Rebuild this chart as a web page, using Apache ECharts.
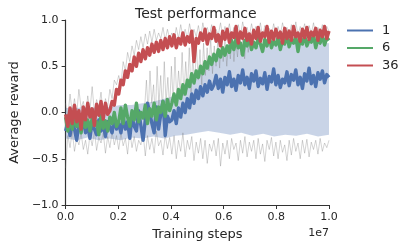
<!DOCTYPE html>
<html><head><meta charset="utf-8">
<script src="https://cdn.jsdelivr.net/npm/echarts/dist/echarts.min.js"></script>
<style>html,body{margin:0;padding:0;background:#fff}#c{width:407px;height:248px}</style>
</head><body><div id="c"></div>
<script>
// ---- data (Average reward vs training steps, x in units of 1e7 steps) ----
const legendNames = ['1', '6', '36'];
const xTickLabels = ['0.0', '0.2', '0.4', '0.6', '0.8', '1.0'];
const yTickLabels = ['\u22121.0', '\u22120.5', '0.0', '0.5', '1.0'];

// mean curve, 36 workers (x from 0.0 to 1.0)
const red36 = [-0.02,-0.15,0.05,-0.12,0.08,-0.1,0.02,-0.18,0.06,-0.08,0.1,-0.05,0.04,-0.14,0.09,-0.03,0.12,-0.07,0.1,-0.02,
 0.02,0.12,0.08,0.25,0.2,0.35,0.3,0.45,0.38,0.52,0.45,0.6,0.5,0.64,0.55,0.68,0.58,0.7,0.62,0.74,0.65,0.76,0.66,0.78,0.68,0.8,0.7,0.82,
 0.72,0.84,0.7,0.8,0.74,0.86,0.73,0.82,0.76,0.88,0.55,0.8,
 0.75,0.86,0.78,0.9,0.74,0.85,0.8,0.92,0.77,0.84,0.72,0.88,0.79,0.9,0.76,0.86,0.81,0.93,0.75,0.87,0.8,0.91,0.78,0.85,0.74,0.89,0.8,0.92,0.77,0.86,
 0.82,0.93,0.76,0.88,0.79,0.9,0.81,0.87,0.75,0.91,0.8,0.88,0.78,0.93,0.82,0.86,0.77,0.9,0.81,0.92,0.79,0.87,0.83,0.91,0.78,0.89,0.82,0.93,0.8,0.88];
// mean curve, 6 workers
const green6 = [-0.05,-0.2,-0.08,-0.18,-0.02,-0.15,-0.1,-0.22,-0.04,-0.16,-0.08,-0.2,-0.06,-0.14,-0.1,-0.24,-0.03,-0.17,-0.09,-0.2,-0.05,-0.12,0.0,-0.15,
 -0.1,0.05,-0.12,0.08,-0.05,-0.15,0.02,-0.08,0.1,-0.1,0.0,-0.06,0.08,-0.12,0.04,-0.04,0.1,-0.08,0.06,0.0,0.12,-0.04,0.14,0.02,
 0.1,0.2,0.08,0.25,0.15,0.3,0.2,0.35,0.28,0.42,0.32,0.45,0.38,0.5,0.42,0.55,0.48,0.6,0.52,0.63,0.56,0.68,0.6,0.7,0.62,
 0.72,0.65,0.78,0.68,0.8,0.7,0.75,0.62,0.78,0.72,0.82,0.68,0.76,0.7,0.8,0.74,0.66,0.79,0.72,0.83,0.7,0.77,0.73,0.81,0.68,0.78,0.74,0.84,0.71,0.79,
 0.75,0.82,0.66,0.8,0.74,0.83,0.72,0.78,0.76,0.84,0.7,0.8,0.75,0.83,0.73,0.81,0.78];
// mean curve, 1 worker
const blue1 = [-0.2,-0.1,-0.25,-0.08,-0.18,-0.3,-0.12,-0.2,-0.06,-0.22,-0.14,-0.28,-0.1,-0.18,-0.24,-0.08,-0.2,-0.12,-0.26,-0.1,-0.16,-0.22,-0.06,-0.18,
 -0.12,-0.22,-0.05,-0.18,-0.1,-0.28,-0.04,-0.15,-0.2,0.02,-0.14,-0.3,-0.08,0.1,0.0,-0.12,-0.22,0.06,-0.18,-0.02,0.12,-0.25,-0.04,-0.1,
 -0.08,0.02,-0.12,0.05,-0.05,0.1,0.0,0.15,0.05,0.2,0.1,0.24,0.15,0.28,0.18,0.3,0.22,0.34,0.25,
 0.3,0.4,0.26,0.36,0.22,0.38,0.3,0.44,0.28,0.36,0.24,0.4,0.32,0.46,0.3,0.38,0.26,0.42,0.34,0.45,0.28,0.37,0.31,0.43,0.25,0.39,0.33,0.47,0.3,0.4,
 0.27,0.36,0.32,0.44,0.29,0.41,0.35,0.46,0.3,0.38,0.26,0.42,0.34,0.48,0.31,0.4,0.28,0.43,0.36,0.45,0.32,0.41,0.38];
// spread band of the 1-worker runs
const blueLo = [-0.28,-0.3,-0.27,-0.3,-0.28,-0.3,-0.27,-0.28,-0.26,-0.28,-0.25,-0.24,-0.22,-0.2,-0.22,-0.24,-0.22,-0.25,-0.23,-0.26,-0.24,-0.25,-0.23,-0.26,-0.24];
const blueHi = [0.05,0.05,0.06,0.05,0.06,0.08,0.08,0.1,0.12,0.15,0.18,0.25,0.4,0.55,0.66,0.7,0.72,0.73,0.72,0.74,0.73,0.75,0.74,0.76,0.75];
// individual runs: lower extremes, upper extremes, middle (transition) traces
const grayLow = [-0.6,-0.25,-0.38,-0.2,-0.42,-0.28,-0.35,-0.22,-0.4,-0.3,-0.45,-0.24,-0.36,-0.2,-0.41,-0.27,-0.33,-0.22,-0.44,-0.26,-0.38,-0.21,-0.35,-0.25,
 -0.4,-0.22,-0.36,-0.28,-0.45,-0.2,-0.38,-0.26,-0.42,-0.3,-0.35,-0.22,-0.47,-0.25,-0.4,-0.28,-0.44,-0.2,-0.36,-0.3,-0.46,-0.24,-0.39,-0.27,
 -0.45,-0.25,-0.5,-0.3,-0.42,-0.22,-0.48,-0.3,-0.4,-0.26,-0.52,-0.32,-0.44,-0.28,-0.5,-0.3,-0.55,-0.34,-0.42,-0.3,-0.47,-0.28,-0.58,-0.33,
 -0.45,-0.3,-0.5,-0.28,-0.4,-0.33,-0.52,-0.3,-0.44,-0.26,-0.48,-0.32,-0.42,-0.3,-0.5,-0.28,-0.45,-0.34,-0.53,-0.3,-0.4,-0.27,-0.47,-0.32,-0.5,-0.3,
 -0.43,-0.35,-0.52,-0.3,-0.46,-0.28,-0.42,-0.33,-0.5,-0.3,-0.44,-0.29,-0.48,-0.32,-0.4,-0.3,-0.45,-0.28,-0.42,-0.33,-0.38,-0.3];
const grayHigh = [0.1,-0.05,0.2,0.0,0.15,-0.02,0.25,0.05,0.12,-0.04,0.18,0.02,0.28,0.0,0.14,0.05,0.22,-0.03,0.15,0.06,0.25,0.15,0.35,0.3,
 0.4,0.3,0.55,0.45,0.65,0.55,0.72,0.62,0.78,0.68,0.82,0.7,0.85,0.74,0.88,0.76,0.9,0.78,0.86,0.8,0.92,0.78,0.9,0.8,
 0.86,0.78,0.92,0.8,0.95,0.82,0.9,0.8,0.96,0.84,0.9,0.82,0.94,0.8,0.97,0.85,0.92,0.83,0.95,0.81,0.9,0.84,0.97,0.82,0.93,0.85,0.96,0.8,
 0.92,0.84,0.95,0.83,0.98,0.86,0.92,0.82,0.96,0.85,0.93,0.84,0.97,0.82,0.94,0.86,0.91,0.83,0.96,0.85,0.93,0.84,0.97,0.86,0.92,0.83,
 0.95,0.85,0.98,0.84,0.93,0.86,0.96,0.83,0.94,0.85,0.97,0.84,0.92,0.86,0.95,0.85,0.93,0.88];
const grayMidRange = [0.3, 0.7];
const grayMid = [0.05,0.35,0.0,0.45,0.1,0.3,-0.05,0.5,0.08,0.4,0.02,0.55,0.1,0.38,0.05,
 0.5,0.12,0.6,0.15,0.45,0.2,0.65,0.18,0.55,0.25,0.7,0.22,0.6,0.3,0.72,
 0.35,0.68,0.3,0.75,0.4,0.7,0.45,0.8,0.42,0.72,0.5,0.78,0.48,0.82,0.55,
 0.8,0.5,0.75,0.58,0.85,0.55,0.78,0.6,0.82,0.62,0.8,0.58,0.84,0.65,0.8];

// ---- build ----
const SCALE = 1e7;
function xAt(i, n, x0, x1) { return (x0 + (x1 - x0) * i / (n - 1)) * SCALE; }
function toXY(arr, x0, x1) {
  x0 = x0 === undefined ? 0 : x0; x1 = x1 === undefined ? 1 : x1;
  return arr.map((v, i) => [xAt(i, arr.length, x0, x1), v]);
}
const C_BLUE = '#4C72B0', C_GREEN = '#55A868', C_RED = '#C44E52';
const FONT = 'DejaVu Sans';
const TXT = '#262626';
const grayStyle = { color: 'rgba(120,120,120,0.4)', width: 0.8 };

function grayLine(name, data) {
  return { name: name, type: 'line', data: data, showSymbol: false, symbol: 'none', silent: true, z: 2,
    lineStyle: grayStyle, animation: false };
}
function meanLine(name, data, color, z) {
  return { name: name, type: 'line', data: data, showSymbol: false, symbol: 'none', z: z,
    itemStyle: { color: color }, lineStyle: { color: color, width: 3.4, join: 'round' }, animation: false };
}

// band polygon drawn through the axes' own coordinate mapping
const bandData = blueLo.map((v, i) => [xAt(i, blueLo.length, 0, 1), v, blueHi[i]]);
function renderBand(params, api) {
  if (params.dataIndex !== 0) return null;
  const top = bandData.map(d => api.coord([d[0], d[2]]));
  const bot = bandData.slice().reverse().map(d => api.coord([d[0], d[1]]));
  return { type: 'polygon', shape: { points: top.concat(bot) },
    style: { fill: 'rgba(76,114,176,0.3)' } };
}

const chart = echarts.init(document.getElementById('c'), null, { renderer: 'canvas' });
chart.setOption({
  animation: false,
  backgroundColor: '#fff',
  textStyle: { fontFamily: FONT },
  title: { text: 'Test performance', left: 130, top: 2,
    textStyle: { fontFamily: FONT, fontSize: 14, fontWeight: 'normal', color: TXT } },
  legend: { data: legendNames, orient: 'vertical', left: 342, top: 19, itemWidth: 26, itemHeight: 2,
    itemGap: 4.5, icon: 'rect',
    textStyle: { fontFamily: FONT, fontSize: 13, color: TXT, padding: [0, 0, 0, 4] } },
  grid: { left: 60, right: 78, top: 20, bottom: 43 },
  xAxis: {
    type: 'value', min: 0, max: SCALE, interval: 0.2 * SCALE,
    name: 'Training steps', nameLocation: 'middle', nameGap: 21,
    nameTextStyle: { fontFamily: FONT, fontSize: 13, color: TXT },
    axisLine: { onZero: false, lineStyle: { color: '#333', width: 1.2 } },
    axisTick: { length: 4, lineStyle: { color: '#333', width: 1 } },
    axisLabel: { margin: 7, fontFamily: FONT, fontSize: 11, color: TXT,
      formatter: v => xTickLabels[Math.round(v / (0.2 * SCALE))] },
    splitLine: { show: false }
  },
  yAxis: {
    type: 'value', min: -1, max: 1, interval: 0.5,
    name: 'Average reward', nameLocation: 'middle', nameGap: 43,
    nameTextStyle: { fontFamily: FONT, fontSize: 13, color: TXT },
    axisLine: { show: true, onZero: false, lineStyle: { color: '#333', width: 1.2 } },
    axisTick: { show: true, length: 4, lineStyle: { color: '#333', width: 1 } },
    axisLabel: { margin: 7, fontFamily: FONT, fontSize: 11, color: TXT,
      formatter: v => yTickLabels[Math.round((v + 1) / 0.5)] },
    splitLine: { show: false }
  },
  graphic: [{ type: 'text', right: 78, top: 228,
    style: { text: '1e7', fontFamily: FONT, fontSize: 11, fill: TXT } }],
  series: [
    { name: 'band', type: 'custom', data: bandData, renderItem: renderBand, silent: true, z: 1,
      encode: { x: 0, y: [1, 2] }, animation: false },
    grayLine('grayLow', toXY(grayLow)),
    grayLine('grayHigh', toXY(grayHigh)),
    grayLine('grayMid', toXY(grayMid, grayMidRange[0], grayMidRange[1])),
    meanLine('1', toXY(blue1), C_BLUE, 3),
    meanLine('6', toXY(green6), C_GREEN, 4),
    meanLine('36', toXY(red36), C_RED, 5)
  ]
});
</script>
</body></html>
